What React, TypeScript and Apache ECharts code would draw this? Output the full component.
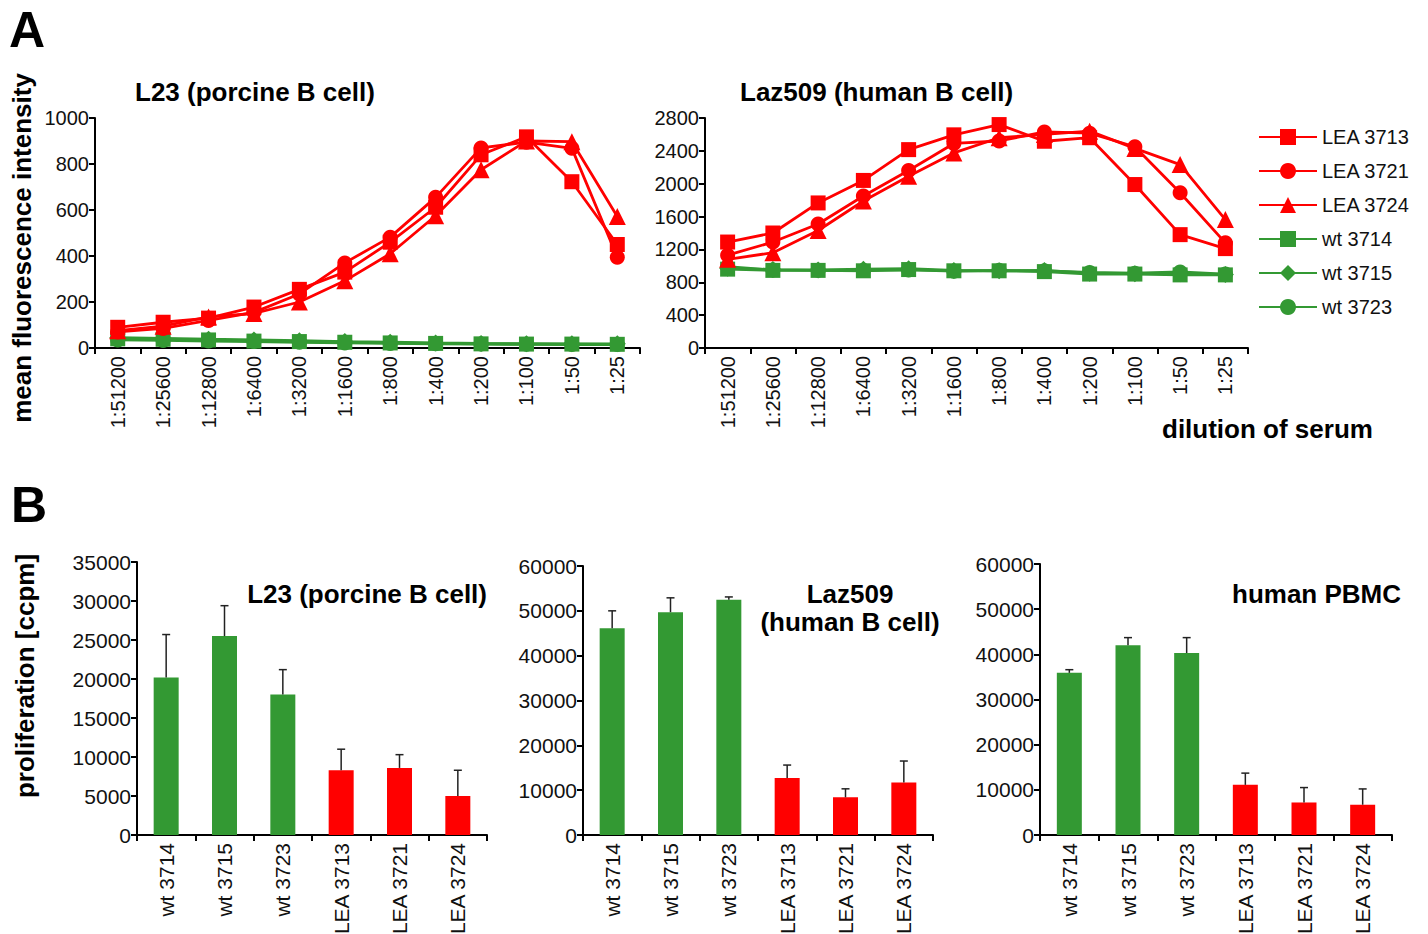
import React, { useEffect, useRef } from 'react';
import * as echarts from 'echarts';

// ---------- data ----------
const dilutions = ['1:51200', '1:25600', '1:12800', '1:6400', '1:3200', '1:1600', '1:800', '1:400', '1:200', '1:100', '1:50', '1:25'];

// Panel A, L23 (porcine B cell) — mean fluorescence intensity
const l23LEA3713 = [90, 112, 130, 178, 255, 330, 460, 612, 840, 918, 723, 450];
const l23LEA3721 = [70, 85, 120, 155, 235, 370, 482, 655, 870, 895, 868, 395];
const l23LEA3724 = [75, 95, 135, 150, 200, 292, 410, 575, 775, 900, 897, 572];
const l23wt3714 = [40, 38, 35, 30, 28, 25, 22, 20, 18, 17, 17, 16];
const l23wt3715 = [45, 42, 38, 35, 32, 28, 25, 22, 20, 19, 18, 18];
const l23wt3723 = [35, 33, 30, 28, 25, 22, 20, 18, 17, 16, 15, 15];

// Panel A, Laz509 (human B cell)
const lazLEA3713 = [1290, 1400, 1766, 2040, 2415, 2595, 2720, 2517, 2560, 1990, 1380, 1210];
const lazLEA3721 = [1130, 1290, 1510, 1850, 2160, 2490, 2520, 2630, 2615, 2450, 1890, 1280];
const lazLEA3724 = [1080, 1160, 1430, 1790, 2090, 2375, 2560, 2600, 2640, 2430, 2233, 1563];
const lazwt3714 = [960, 945, 945, 940, 955, 940, 940, 930, 900, 900, 890, 890];
const lazwt3715 = [970, 955, 950, 960, 965, 945, 940, 945, 910, 905, 905, 895];
const lazwt3723 = [990, 950, 945, 945, 950, 935, 945, 940, 920, 910, 925, 900];

// Panel B — proliferation [ccpm]
const sera = ['wt 3714', 'wt 3715', 'wt 3723', 'LEA 3713', 'LEA 3721', 'LEA 3724'];
const l23Mean = [20200, 25500, 18000, 8300, 8600, 5000];
const l23Sd = [5500, 3900, 3200, 2700, 1700, 3300];
const lazMean = [46100, 49700, 52500, 12700, 8400, 11700];
const lazSd = [3900, 3200, 600, 2900, 1900, 4800];
const pbmcMean = [35900, 42000, 40300, 11100, 7200, 6700];
const pbmcSd = [700, 1700, 3400, 2600, 3300, 3500];

const legendOrder = ['LEA 3713', 'LEA 3721', 'LEA 3724', 'wt 3714', 'wt 3715', 'wt 3723'];

// ---------- styles ----------
const RED = '#ff0000';
const GREEN = '#339933';
const FONT = '"Liberation Sans", Arial, sans-serif';
const AXIS = { lineStyle: { color: '#000', width: 2 } };

export default function App() {
  const ref = useRef<HTMLDivElement>(null);

  useEffect(() => {
    if (!ref.current) return;
    const chart = echarts.init(ref.current, null, { renderer: 'svg' });

    const catAxis = (gridIndex: number, data: string[], fontSize: number) => ({
      type: 'category',
      gridIndex,
      data,
      boundaryGap: true,
      axisLine: AXIS,
      axisTick: { show: true, length: 6, lineStyle: { color: '#000', width: 2 } },
      axisLabel: { rotate: 90, interval: 0, fontSize, color: '#111', fontFamily: FONT, margin: 8 },
    });
    const valAxis = (gridIndex: number, max: number, interval: number, fontSize: number) => ({
      type: 'value',
      gridIndex,
      min: 0,
      max,
      interval,
      axisLine: { show: true, ...AXIS },
      axisTick: { show: true, length: 6, lineStyle: { color: '#000', width: 2 } },
      splitLine: { show: false },
      axisLabel: { fontSize, color: '#111', fontFamily: FONT, margin: 6, formatter: (v: number) => String(v) },
    });

    const lineS = (name: string, data: number[], color: string, symbol: string, size: number, idx: number) => ({
      type: 'line',
      name,
      data,
      xAxisIndex: idx,
      yAxisIndex: idx,
      color,
      symbol,
      symbolSize: size,
      showAllSymbol: true,
      lineStyle: { color, width: 2.8 },
      itemStyle: { color },
    });

    const linePanel = (idx: number, a: number[][]) => [
      lineS('wt 3723', a[5], GREEN, 'circle', 15, idx),
      lineS('wt 3715', a[4], GREEN, 'diamond', 17, idx),
      lineS('wt 3714', a[3], GREEN, 'rect', 15, idx),
      lineS('LEA 3724', a[2], RED, 'triangle', 17, idx),
      lineS('LEA 3721', a[1], RED, 'circle', 15, idx),
      lineS('LEA 3713', a[0], RED, 'rect', 15, idx),
    ];

    const barS = (idx: number, means: number[]) => ({
      type: 'bar',
      xAxisIndex: idx,
      yAxisIndex: idx,
      barWidth: 25,
      data: means.map((v, i) => ({ value: v, itemStyle: { color: i < 3 ? GREEN : RED } })),
    });

    const errS = (idx: number, means: number[], sds: number[]) => ({
      type: 'custom',
      xAxisIndex: idx,
      yAxisIndex: idx,
      z: 5,
      data: means.map((m, i) => [i, m, m + sds[i]]),
      encode: { x: 0, y: [1, 2] },
      renderItem: (_p: any, api: any) => {
        const p0 = api.coord([api.value(0), api.value(1)]);
        const p1 = api.coord([api.value(0), api.value(2)]);
        const st = { stroke: '#222', lineWidth: 1.5 };
        return {
          type: 'group',
          children: [
            { type: 'line', shape: { x1: p0[0], y1: p0[1], x2: p1[0], y2: p1[1] }, style: st },
            { type: 'line', shape: { x1: p1[0] - 4, y1: p1[1], x2: p1[0] + 4, y2: p1[1] }, style: st },
          ],
        };
      },
    });

    const txt = (text: string, x: number, y: number, size: number, opts: any = {}) => ({
      type: 'text',
      x,
      y,
      rotation: opts.rotation || 0,
      style: {
        text,
        fontSize: size,
        fontWeight: opts.weight || 'bold',
        fontFamily: FONT,
        fill: '#000',
        textAlign: opts.align || 'left',
        textVerticalAlign: 'middle',
        lineHeight: opts.lineHeight,
      },
    });

    const G = { outerBoundsMode: 'none', containLabel: false };

    const option: any = {
      animation: false,
      backgroundColor: '#fff',
      grid: [
        { ...G, left: 95, top: 118, width: 545, height: 230 },
        { ...G, left: 705, top: 118, width: 543, height: 230 },
        { ...G, left: 137, top: 562, width: 350, height: 273 },
        { ...G, left: 583, top: 566, width: 350, height: 269 },
        { ...G, left: 1040, top: 564, width: 352, height: 271 },
      ],
      xAxis: [
        catAxis(0, dilutions, 20),
        catAxis(1, dilutions, 20),
        catAxis(2, sera, 21),
        catAxis(3, sera, 21),
        catAxis(4, sera, 21),
      ],
      yAxis: [
        valAxis(0, 1000, 200, 20),
        valAxis(1, 2800, 400, 20),
        valAxis(2, 35000, 5000, 21),
        valAxis(3, 60000, 10000, 21),
        valAxis(4, 60000, 10000, 21),
      ],
      legend: {
        orient: 'vertical',
        left: 1253,
        top: 122,
        itemWidth: 58,
        itemHeight: 20,
        itemGap: 14,
        textStyle: { fontSize: 20, color: '#111', fontFamily: FONT, lineHeight: 20 },
        data: legendOrder,
      },
      series: [
        ...linePanel(0, [l23LEA3713, l23LEA3721, l23LEA3724, l23wt3714, l23wt3715, l23wt3723]),
        ...linePanel(1, [lazLEA3713, lazLEA3721, lazLEA3724, lazwt3714, lazwt3715, lazwt3723]),
        barS(2, l23Mean),
        errS(2, l23Mean, l23Sd),
        barS(3, lazMean),
        errS(3, lazMean, lazSd),
        barS(4, pbmcMean),
        errS(4, pbmcMean, pbmcSd),
      ],
      graphic: [
        txt('A', 9, 30, 50),
        txt('B', 11, 505, 50),
        txt('L23 (porcine B cell)', 135, 92, 26),
        txt('Laz509 (human B cell)', 740, 92, 26),
        txt('dilution of serum', 1162, 429, 26),
        txt('mean fluorescence intensity', 22, 248, 26, { rotation: Math.PI / 2, align: 'center' }),
        txt('proliferation [ccpm]', 25, 676, 26, { rotation: Math.PI / 2, align: 'center' }),
        txt('L23 (porcine B cell)', 487, 594, 26, { align: 'right' }),
        txt('Laz509\n(human B cell)', 850, 608, 26, { align: 'center', lineHeight: 28 }),
        txt('human PBMC', 1401, 594, 26, { align: 'right' }),
      ],
    };

    chart.setOption(option);
    return () => chart.dispose();
  }, []);

  return <div ref={ref} style={{ position: 'fixed', left: 0, top: 0, width: 1428, height: 934 }} />;
}
